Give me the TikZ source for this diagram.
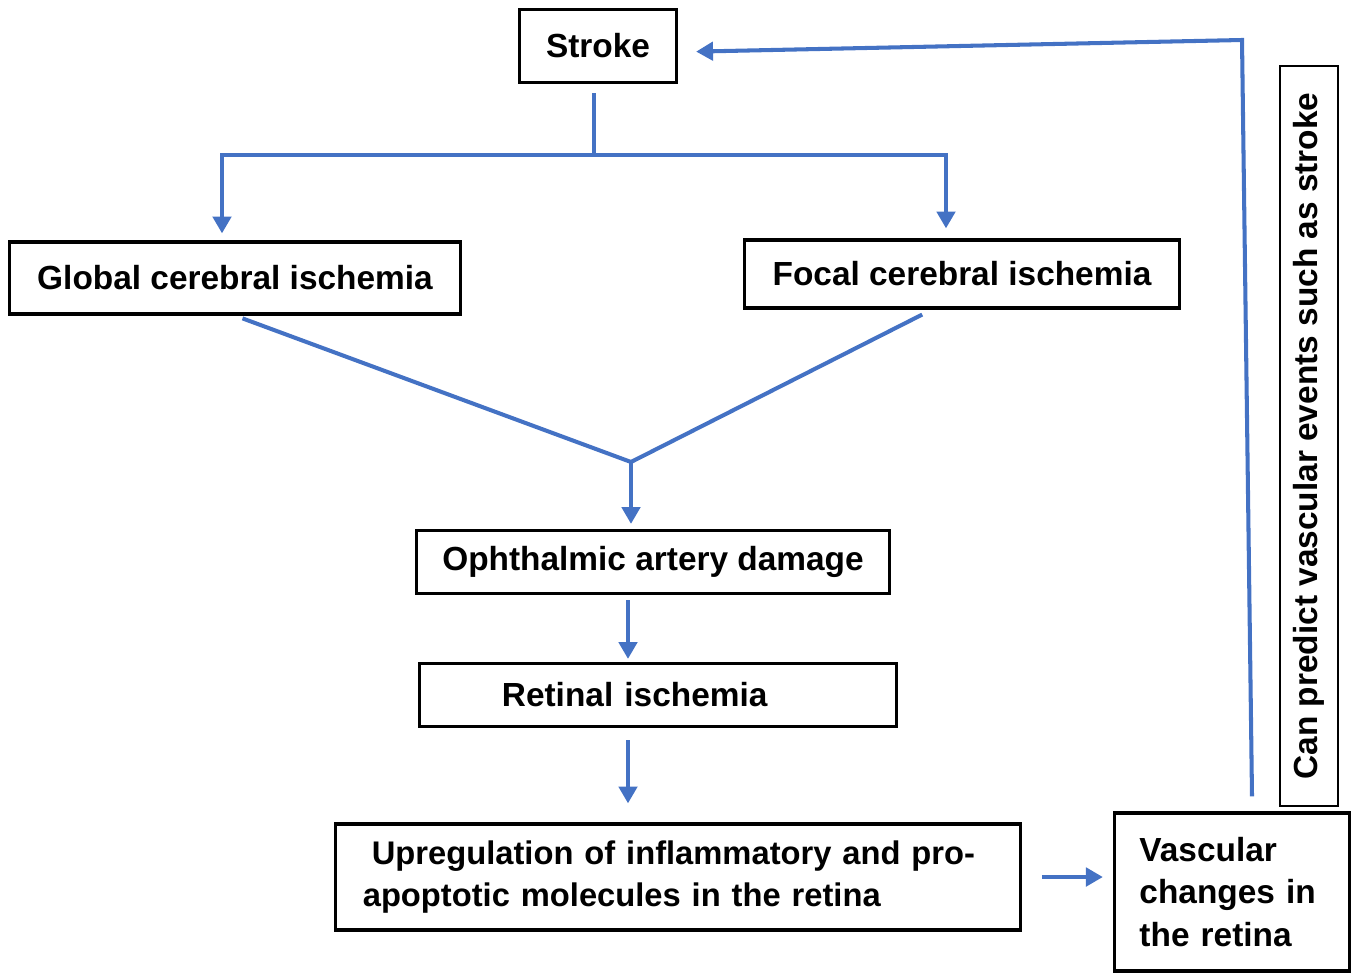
\documentclass[tikz,border=0pt]{standalone}
\usepackage{fontspec}
\setmainfont{Liberation Sans}
\usetikzlibrary{arrows.meta}
\usetikzlibrary{calc}

\definecolor{flowblue}{RGB}{68,114,196}

\begin{document}
\begin{tikzpicture}[x=0.01cm, y=-0.01cm,
    box/.style={draw, line width=0.9pt, inner sep=0pt, align=center,
        font=\fontsize{9.5}{11.8}\selectfont\bfseries},
    flow/.style={draw=flowblue, line width=1.15pt,
        -{Triangle[length=4.8pt, width=5.2pt]}},
    plain/.style={draw=flowblue, line width=1.15pt}]

    \useasboundingbox (0,0) rectangle (1355,973);

    % Define nodes
    \node (stroke) [box, minimum width=1.57cm, minimum height=0.73cm] at (598,46) {Stroke};
    \node (global) [box, minimum width=4.50cm, minimum height=0.72cm] at (235,278) {Global cerebral ischemia};
    \node (focal) [box, minimum width=4.35cm, minimum height=0.68cm] at (962,274) {Focal cerebral ischemia};
    \node (oph) [box, minimum width=4.73cm, minimum height=0.63cm] at (653,562) {Ophthalmic artery damage};
    \node (ret) [box, minimum width=4.76cm, minimum height=0.63cm, align=left,
        text width=3.12cm, inner xsep=0.82cm] at (658,695) {Retinal ischemia};
    \node (upreg) [box, minimum width=6.84cm, minimum height=1.06cm, align=left,
        text width=6.30cm, inner xsep=0.27cm, font=\fontsize{9.3}{11.8}\selectfont\bfseries] at (678,877)
        {\hspace{0.09cm}Upregulation of inflammatory and pro-\\apoptotic molecules in the retina};
    \node (vasc) [box, minimum width=2.35cm, minimum height=1.58cm, align=left,
        text width=1.85cm, inner xsep=0.25cm, font=\fontsize{9.5}{12}\selectfont\bfseries] at (1232,892)
        {Vascular\\changes in\\the retina};
    \node (predict) [box, line width=0.6pt, minimum width=7.40cm, minimum height=0.58cm,
        rotate=90] at (1309,436) {Can predict vascular events such as stroke};

    % Junction points
    \coordinate (split) at (594,155);
    \coordinate (splitL) at (222,155);
    \coordinate (splitR) at (946,155);
    \coordinate (merge) at (631,462);
    \coordinate (corner) at (1242,40);

    % Draw arrows
    \draw[plain, shorten <=0.09cm] (stroke.south -| split) -- (split);
    \draw[flow, shorten >=0.07cm] (split) -- (splitL) -- (splitL |- global.north);
    \draw[flow, shorten >=0.10cm] (split) -- (splitR) -- (splitR |- focal.north);
    \draw[plain, shorten <=0.08cm] (global.south) -- (merge);
    \draw[plain, shorten <=0.11cm] ($(focal.south)+(-30,0)$) -- (merge);
    \draw[flow, shorten >=0.05cm] (merge) -- (merge |- oph.north);
    \draw[flow, shorten <=0.05cm, shorten >=0.03cm] (oph.south -| 628,0) -- (ret.north -| 628,0);
    \draw[flow, shorten <=0.12cm, shorten >=0.19cm] (ret.south -| 628,0) -- (upreg.north -| 628,0);
    \draw[flow, shorten <=0.20cm, shorten >=0.10cm] (upreg.east) -- (vasc.west |- upreg.east);
    \draw[flow, shorten >=0.18cm] ($(vasc.north)+(20,-15)$) -- (corner) -- ($(stroke.east)+(0,6)$);

\end{tikzpicture}
\end{document}
